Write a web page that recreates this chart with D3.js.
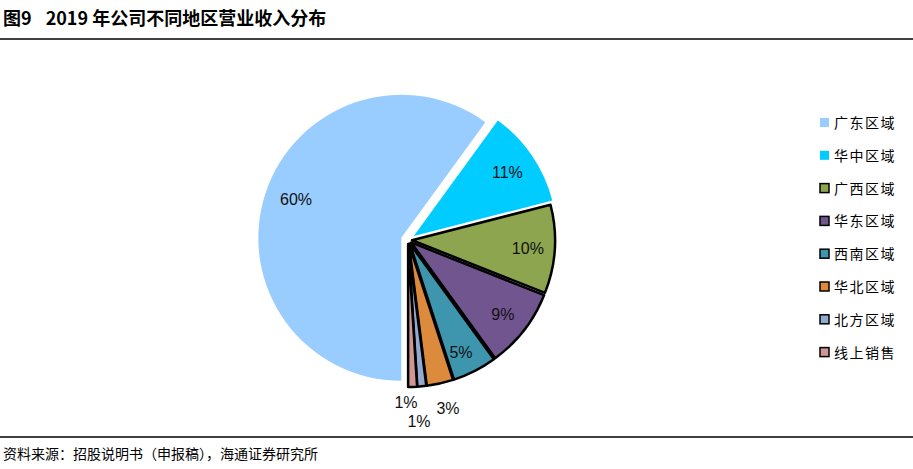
<!DOCTYPE html>
<html><head><meta charset="utf-8">
<script src="https://cdn.jsdelivr.net/npm/d3@7"></script>
<style>body{margin:0;background:#fff;font-family:"Liberation Sans",Arial,sans-serif}</style>
</head><body>
<svg id="c" width="913" height="469"></svg>
<script>
var categories = ["广东区域","华中区域","广西区域","华东区域","西南区域","华北区域","北方区域","线上销售"];
var values = [60, 11, 10, 9, 5, 3, 1, 1];
var colors = ["#99ccff","#00ccff","#8ca54e","#71558f","#3d96ae","#dc8a3c","#93a9cf","#d09694"];
var offsets = [7, 7, 4, 4, 4, 4, 4, 4];

var svg = d3.select("#c");
var cjk = '"Noto Sans CJK SC",sans-serif';

var title = svg.append("text").attr("x", 3).attr("y", 25).attr("font-size", 18).attr("font-weight", "bold")
  .attr("font-family", cjk);
title.append("tspan").text("图9");
title.append("tspan").attr("dx", 14).text("2019 年公司不同地区营业收入分布");
svg.append("line").attr("x1", 0).attr("x2", 913).attr("y1", 39).attr("y2", 39).attr("stroke", "#000").attr("stroke-width", 1.5);
svg.append("line").attr("x1", 0).attr("x2", 913).attr("y1", 437).attr("y2", 437).attr("stroke", "#000").attr("stroke-width", 1.5);
svg.append("text").attr("x", 3).attr("y", 459).attr("font-size", 14).attr("font-family", cjk)
  .text("资料来源：招股说明书（申报稿），海通证券研究所");

var cx = 408, cy = 240, r = 143;
var arcs = d3.pie().sort(null).value(function(d){return d;})
  .startAngle(Math.PI).endAngle(3 * Math.PI)(values);
var arc = d3.arc().innerRadius(0).outerRadius(r);
var labelArc = d3.arc().innerRadius(r * 0.84).outerRadius(r * 0.84);

var g = svg.append("g").attr("transform", "translate(" + cx + "," + cy + ")");
g.selectAll("path").data(arcs).enter().append("path")
  .attr("transform", function(d, i) {
    var m = (d.startAngle + d.endAngle) / 2;
    return "translate(" + (Math.sin(m) * offsets[i]) + "," + (-Math.cos(m) * offsets[i]) + ")";
  })
  .attr("d", arc)
  .attr("fill", function(d, i){return colors[i];})
  .attr("stroke", function(d, i){return i < 2 ? "#fff" : "#000";})
  .attr("stroke-width", function(d, i){return i < 2 ? 0 : 2.5;})
  .attr("stroke-linejoin", "round");

var outside = [[-112, -41], null, null, null, [53, 112], [40, 168], [-2, 162], [11, 181]];
g.selectAll("text.lbl").data(arcs).enter().append("text")
  .attr("class", "lbl")
  .attr("text-anchor", "middle")
  .attr("font-size", 16)
  .attr("fill", "#111")
  .attr("x", function(d, i){ return outside[i] ? outside[i][0] : labelArc.centroid(d)[0]; })
  .attr("y", function(d, i){ return (outside[i] ? outside[i][1] : labelArc.centroid(d)[1]) + 6; })
  .text(function(d){ return d.data + "%"; });

var leg = svg.append("g").attr("transform", "translate(820,123)");
var row = leg.selectAll("g").data(categories).enter().append("g")
  .attr("transform", function(d, i){ return "translate(0," + (i * 32.8) + ")"; });
row.append("rect").attr("x", 0).attr("y", -5).attr("width", 9).attr("height", 9)
  .attr("fill", function(d, i){return colors[i];})
  .attr("stroke", function(d, i){return i < 2 ? "none" : "#000";})
  .attr("stroke-width", 1.5);
row.append("text").attr("x", 14).attr("y", 5).attr("font-size", 14).attr("font-family", cjk)
  .attr("letter-spacing", 1.5)
  .text(function(d){return d;});
</script>
</body></html>
